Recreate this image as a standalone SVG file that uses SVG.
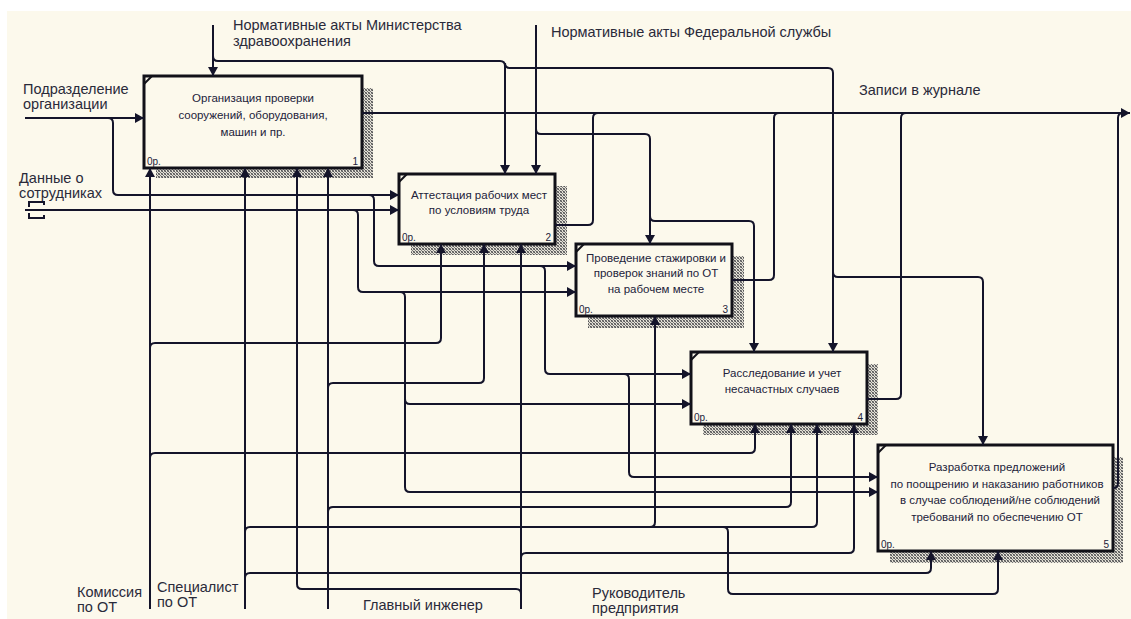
<svg xmlns="http://www.w3.org/2000/svg" width="1131" height="619" viewBox="0 0 1131 619">
<defs>
<pattern id="hatch" width="3" height="3" patternUnits="userSpaceOnUse"><rect width="3" height="3" fill="#e4e1d6"/><rect width="1" height="1" fill="#555555"/><rect x="1" y="1" width="1" height="1" fill="#777777"/><rect x="2" y="2" width="1" height="1" fill="#555555"/><rect x="2" y="0" width="1" height="1" fill="#888888"/><rect x="0" y="2" width="1" height="1" fill="#888888"/></pattern>
<marker id="arr" viewBox="0 0 9 10" refX="9" refY="5" markerWidth="9" markerHeight="10" orient="auto" markerUnits="userSpaceOnUse"><path d="M0,0 L9,5 L0,10 z" fill="#14142a"/></marker>
<style>
.bg{fill:#fcf9ec}
.box{fill:#fcf9ec;stroke:#111118;stroke-width:3}
.sh{fill:url(#hatch)}
.cm{fill:none;stroke:#111118;stroke-width:2}
.c{fill:none;stroke:#14142a;stroke-width:2}
.a{marker-end:url(#arr)}
.bt{font-family:"Liberation Sans",Arial,sans-serif;font-size:11.5px;fill:#22223a;text-anchor:middle}
.sm{font-family:"Liberation Sans",Arial,sans-serif;font-size:10px;fill:#22223a}
.lb{font-family:"Liberation Sans",Arial,sans-serif;font-size:14.5px;fill:#2a2a3a}
</style>
</defs>
<rect x="0" y="0" width="1131" height="619" fill="#ffffff"/>
<rect class="bg" x="7" y="11" width="1124" height="608"/>

<g id="node1">
<rect class="sh" x="156" y="88" width="217" height="90"/>
<rect class="box" x="144" y="76" width="218" height="92"/>
<path class="cm" d="M144,84 L152,76"/>
<text class="bt" x="253" y="102">Организация проверки</text>
<text class="bt" x="253" y="119">сооружений, оборудования,</text>
<text class="bt" x="253" y="136">машин и пр.</text>
<text class="sm" x="147" y="165">0р.</text>
<text class="sm" x="358" y="165" text-anchor="end">1</text>
</g>

<g id="node2">
<rect class="sh" x="411" y="186" width="156" height="69"/>
<rect class="box" x="399" y="174" width="156" height="70"/>
<path class="cm" d="M399,182 L407,174"/>
<text class="bt" x="479" y="199">Аттестация рабочих мест</text>
<text class="bt" x="479" y="214">по условиям труда</text>
<text class="sm" x="402" y="241">0р.</text>
<text class="sm" x="551" y="241" text-anchor="end">2</text>
</g>

<g id="node3">
<rect class="sh" x="588" y="256" width="156" height="72"/>
<rect class="box" x="576" y="244" width="156" height="72"/>
<path class="cm" d="M576,252 L584,244"/>
<text class="bt" x="656" y="262">Проведение стажировки и</text>
<text class="bt" x="656" y="277">проверок знаний по ОТ</text>
<text class="bt" x="656" y="293">на рабочем месте</text>
<text class="sm" x="579" y="313">0р.</text>
<text class="sm" x="728" y="313" text-anchor="end">3</text>
</g>

<g id="node4">
<rect class="sh" x="703" y="364" width="175" height="71"/>
<rect class="box" x="691" y="352" width="176" height="72"/>
<path class="cm" d="M691,360 L699,352"/>
<text class="bt" x="782" y="377">Расследование и учет</text>
<text class="bt" x="782" y="393">несачастных случаев</text>
<text class="sm" x="694" y="421">0р.</text>
<text class="sm" x="863" y="421" text-anchor="end">4</text>
</g>

<g id="node5">
<rect class="sh" x="890" y="457" width="233" height="106"/>
<rect class="box" x="878" y="445" width="235" height="106"/>
<path class="cm" d="M878,453 L886,445"/>
<text class="bt" x="997" y="471">Разработка предложений</text>
<text class="bt" x="997" y="488">по поощрению и наказанию работников</text>
<text class="bt" x="1000" y="504">в случае соблюдений/не соблюдений</text>
<text class="bt" x="997" y="521">требований по обеспечению ОТ</text>
<text class="sm" x="881" y="548">0р.</text>
<text class="sm" x="1109" y="548" text-anchor="end">5</text>
</g>

<g id="connectors">
<!-- controls -->
<path class="c a" d="M213,25 V76"/>
<path class="c a" d="M213,56 Q213,61 218,61 H500 Q505,61 505,66 V174"/>
<path class="c a" d="M505,63 Q505,68 510,68 H828 Q833,68 833,73 V352"/>
<path class="c a" d="M833,272 Q833,277 838,277 H978 Q983,277 983,282 V445"/>
<path class="c a" d="M536,25 V174"/>
<path class="c a" d="M536,129 Q536,134 541,134 H645 Q650,134 650,139 V244"/>
<path class="c a" d="M650,216 Q650,221 655,221 H749 Q754,221 754,226 V352"/>
<!-- inputs -->
<path class="c a" d="M25,118 H144"/>
<path class="c a" d="M108,118 Q113,118 113,123 V190 Q113,195 118,195 H399"/>
<path class="c a" d="M369,195 Q374,195 374,200 V261 Q374,266 379,266 H576"/>
<path class="c a" d="M540,266 Q545,266 545,271 V369 Q545,374 550,374 H691"/>
<path class="c a" d="M624,374 Q629,374 629,379 V472 Q629,477 634,477 H878"/>
<path class="c a" d="M25,210 H399"/>
<path class="c a" d="M353,210 Q358,210 358,215 V287 Q358,292 363,292 H576"/>
<path class="c a" d="M400,292 Q405,292 405,297 V487 Q405,492 410,492 H878"/>
<path class="c a" d="M405,399 Q405,404 410,404 H691"/>
<path class="c" d="M29,207 V202 H44 V205 M29,213 V218 H44 V215"/>
<!-- outputs -->
<path class="c a" d="M362,113 H1130"/>
<path class="c" d="M555,225 H588 Q593,225 593,220 V118 Q593,113 598,113"/>
<path class="c" d="M732,280 H769 Q774,280 774,275 V118 Q774,113 779,113"/>
<path class="c" d="M867,399 H896 Q901,399 901,394 V118 Q901,113 906,113"/>
<path class="c" d="M1113,488 Q1118,488 1118,483 V118 Q1118,113 1123,113"/>
<!-- mechanisms -->
<path class="c a" d="M150,609 V168"/>
<path class="c a" d="M150,348 Q150,343 155,343 H436 Q441,343 441,338 V244"/>
<path class="c a" d="M150,458 Q150,453 155,453 H750 Q755,453 755,448 V424"/>
<path class="c a" d="M245,609 V168"/>
<path class="c a" d="M245,532 Q245,527 250,527 H812 Q817,527 817,522 V424"/>
<path class="c a" d="M650,527 Q655,527 655,522 V316"/>
<path class="c a" d="M723,527 Q728,527 728,532 V589 Q728,594 733,594 H993 Q998,594 998,589 V551"/>
<path class="c a" d="M245,578 Q245,573 250,573 H926 Q931,573 931,568 V551"/>
<path class="c a" d="M328,609 V168"/>
<path class="c a" d="M328,388 Q328,383 333,383 H479 Q484,383 484,378 V244"/>
<path class="c a" d="M328,512 Q328,507 333,507 H786 Q791,507 791,502 V424"/>
<path class="c a" d="M521,609 V244"/>
<path class="c a" d="M521,558 Q521,553 526,553 H849 Q854,553 854,548 V424"/>
<path class="c a" d="M521,594 Q521,589 516,589 H302 Q297,589 297,584 V168"/>
</g>

<g id="labels">
<text class="lb" x="233" y="30">Нормативные акты Министерства</text>
<text class="lb" x="233" y="46">здравоохранения</text>
<text class="lb" x="551" y="37">Нормативные акты Федеральной службы</text>
<text class="lb" x="859" y="95">Записи в журнале</text>
<text class="lb" x="23" y="94">Подразделение</text>
<text class="lb" x="23" y="109">организации</text>
<text class="lb" x="19" y="183">Данные о</text>
<text class="lb" x="19" y="198">сотрудниках</text>
<text class="lb" x="77" y="597">Комиссия</text>
<text class="lb" x="77" y="612">по ОТ</text>
<text class="lb" x="157" y="592">Специалист</text>
<text class="lb" x="157" y="607">по ОТ</text>
<text class="lb" x="363" y="610">Главный инженер</text>
<text class="lb" x="592" y="598">Руководитель</text>
<text class="lb" x="592" y="613">предприятия</text>
</g>
</svg>
